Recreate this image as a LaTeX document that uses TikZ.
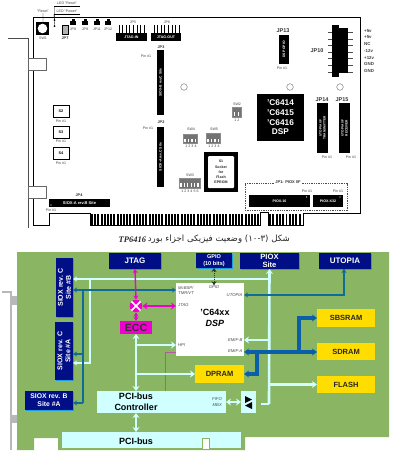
\documentclass[tikz,border=0pt]{standalone}
\usepackage{fontspec}
\setmainfont{Liberation Sans}
\newfontfamily\serf{Liberation Serif}
\newfontfamily\arabicfont[Script=Arabic]{DejaVu Sans}
\TeXXeTstate=1
\usetikzlibrary{arrows.meta,shadows,calc}
\definecolor{pcbgreen}{HTML}{8AB562}
\definecolor{navy}{HTML}{000F85}
\definecolor{edgecyan}{HTML}{1E9FE0}
\definecolor{pale}{HTML}{CFFFFF}
\definecolor{teal1}{HTML}{0F6C96}
\definecolor{blue1}{HTML}{0A5FA8}
\definecolor{magent}{HTML}{F000D0}
\definecolor{plum}{HTML}{B05AA0}
\definecolor{yell}{HTML}{FFDD00}
\definecolor{brk}{HTML}{B8B8B8}
\newcommand\bx[7]{\pgfmathsetmacro\cxx{(#2+#4)/2}\pgfmathsetmacro\cyy{(#3+#5)/2}\pgfmathsetmacro\ww{#4-#2}\pgfmathsetmacro\hh{#5-#3}\node[inner sep=0pt,outer sep=0pt,minimum width=\ww pt,minimum height=\hh pt,align=center,#6] (#1) at (\cxx,\cyy) {#7};}
\tikzset{
 blk/.style={fill=black,text=white,font=\fontsize{3.6}{4}\selectfont\bfseries},
 tiny/.style={inner sep=0pt,font=\fontsize{3.6}{4}\selectfont,text=black!75},
 jp/.style={inner sep=0pt,font=\fontsize{3.8}{4}\selectfont\bfseries,text=black!85},
 jpbig/.style={inner sep=0pt,font=\fontsize{5.5}{6}\selectfont\bfseries,text=black!80},
 sbox/.style={draw=black,line width=.8pt,fill=white,font=\fontsize{3.8}{4}\selectfont\bfseries},
 dip/.style={fill=black!55,draw=black!45,line width=.3pt},
 navybox/.style={fill=navy,text=white,font=\fontsize{8}{9}\selectfont\bfseries,drop shadow={shadow xshift=1pt,shadow yshift=-1pt,fill=edgecyan,opacity=1}},
 vlabel/.style={inner sep=0pt,rotate=90,align=center,text=white,font=\fontsize{7}{8}\selectfont\bfseries},
 yellowbox/.style={fill=yell,text=black!85,font=\fontsize{7.5}{8}\selectfont\bfseries},
 palebox/.style={fill=pale,text=black,font=\fontsize{8}{9.5}\selectfont\bfseries},
 sig/.style={inner sep=0pt,text=black!70,font=\fontsize{4.2}{5}\selectfont\itshape},
 palew/.style={draw=pale,line width=2.6pt},
 palet/.style={draw=pale,line width=1.4pt},
 tealw/.style={draw=teal1,line width=1.4pt},
 bluew/.style={draw=blue1,line width=3.2pt},
 magw/.style={draw=magent,line width=1.4pt},
 tipw/.style={-{Stealth[length=5pt,width=7pt]}},
 tipww/.style={{Stealth[length=5pt,width=7pt]}-{Stealth[length=5pt,width=7pt]}},
 tipn/.style={-{Stealth[length=4pt,width=5pt]}},
 tipnn/.style={{Stealth[length=4pt,width=5pt]}-{Stealth[length=4pt,width=5pt]}},
}
\begin{document}
\begin{tikzpicture}[x=1pt,y=-1pt]
\useasboundingbox (0,0) rectangle (400,453);
% ---------- upper board ----------
\draw[black!70,line width=.8pt] (8,38) -- (28,38) -- (28,228);
\draw[black,line width=1pt] (33,17) -- (360,17) -- (360,213) -- (303,213) -- (303,225) -- (268,225) -- (268,212) -- (260,212) -- (260,225) -- (90,225) -- (90,213) -- (49,213) -- (49,225) -- (33,225) -- cycle;
\bx{tabA}{28}{58}{46}{70}{draw=black!60,fill=white,line width=.4pt}{}
\bx{tabB}{28}{186}{46}{198}{draw=black!60,fill=white,line width=.4pt}{}
\foreach \i in {0,...,52} {\fill[black] ({91+\i*3.2},214) rectangle ++(1.9,10.5);}
\foreach \i in {0,...,9} {\fill[black] ({269+\i*3.3},214) rectangle ++(1.9,10.5);}
% switch and LEDs
\bx{swone}{36}{22}{49}{35}{fill=black}{}
\fill[white] (swone.center) circle (4.8);
\node[tiny] (lsw) at (43,38.5) {SW1};
\node[tiny] (lres) at (43,11) {"Reset"};
\node[tiny] (lledr) at (67,3) {LED "Reset"};
\node[tiny] (lledp) at (67,11) {LED "Power"};
\draw[black,line width=.3pt] (54,6) -- (80,6) (54,14) -- (80,14);
\coordinate (ledA) at (54.5,20);
\coordinate (ledB) at (54.5,26);
\fill[black] (ledA) circle (1) (ledB) circle (1);
\draw[black,line width=.3pt] (43,13) -- (43,22) (54.5,6) -- (ledA) (54,14) -- (ledB);
\bx{jpseven}{62}{25}{68}{34}{draw=black,line width=.7pt,fill=black!30}{}
\node[jp] (ljpseven) at (65,38.5) {JP7};
\foreach \x/\l in {73/JP8,85/JP9,97/JP11,108/JP12} {
 \fill[black] (\x-3,21) rectangle (\x+3,25);
 \fill[black] (\x-1.5,19) rectangle (\x+1.5,21);
 \node[tiny] at (\x,29) {\l};
}
% JTAG headers
\foreach \i in {0,...,7} {\fill[black] ({118.5+\i*3.6},25) rectangle ++(.7,8);\fill[black] ({153.5+\i*3.6},25) rectangle ++(.7,8);}
\bx{jtin}{116}{33}{147}{41}{blk}{JTAG-IN}
\bx{jtout}{151}{33}{181}{41}{blk}{JTAG-OUT}
\node[tiny] (ljpfive) at (133,22) {JP5};
\node[tiny] (ljpsix) at (167,22) {JP6};
% SIOX vertical headers
\bx{jpthree}{157}{50}{164}{115}{fill=black}{}
\node[rotate=90,inner sep=0pt,text=white,font=\fontsize{3.4}{4}\selectfont\bfseries] (tjpthree) at (jpthree.center) {SIOX-B rev.C Site};
\node[jp] (ljpt) at (161,47.5) {JP3};
\node[tiny] (pinthree) at (146,56) {Pin \#1};
\bx{jptwo}{157}{127}{164}{187}{fill=black}{}
\node[rotate=90,inner sep=0pt,text=white,font=\fontsize{3.4}{4}\selectfont\bfseries] (tjptwo) at (jptwo.center) {SIOX-A rev.C Site};
\node[jp] (ljptwo) at (161,122.5) {JP2};
\node[tiny] (pintwo) at (148,128) {Pin \#1};
% mounting holes
\draw[black!60,line width=.4pt,fill=white] (184,87) circle (3.3) (290,87) circle (3.3) (340,87) circle (3.3);
% S2 S3 S4
\bx{stwo}{53}{105}{69}{117}{sbox}{S2}
\bx{sthree}{53}{126}{69}{138}{sbox}{S3}
\bx{sfour}{53}{147}{69}{159}{sbox}{S4}
\node[tiny] (ptwo) at (61,121) {Pin \#1};
\node[tiny] (pthree) at (61,141.5) {Pin \#1};
\node[tiny] (pfour) at (61,163) {Pin \#1};
% JP4
\bx{jpfour}{49}{199}{110}{207}{fill=black,text=white,font=\fontsize{4}{4}\selectfont\bfseries}{SIOX-A rev.B Site}
\node[jp] (ljpfour) at (79,195.5) {JP4};
\node[tiny] (pinfour) at (51,210) {Pin \#1};
% DIP switches
\bx{swfour}{183}{134}{197}{143}{dip}{}
\node[tiny] (lswfour) at (191,129.5) {SW4};
\node[tiny] (nswfour) at (191,146) {1 2 3 4};
\bx{swfive}{206}{133}{220}{143}{dip}{}
\node[tiny] (lswfive) at (214,129.5) {SW5};
\node[tiny] (nswfive) at (214,146) {1 2 3 4};
\bx{swthree}{179}{178}{200}{188}{dip}{}
\node[tiny] (lswthree) at (190,175) {SW3};
\node[tiny] (nswthree) at (190,191) {1 2 3 4 5 6};
\bx{swtwo}{232}{107}{241}{117}{dip}{}
\node[tiny] (lswtwo) at (237,104) {SW2};
\node[tiny] (nswtwo) at (237,120) {1 2};
\foreach \x in {185,188.5,192,195.5,208,211.5,215,218.5} \fill[white] (\x-.6,138.5) rectangle (\x+.6,142);
\foreach \x in {181,184.4,187.8,191.2,194.6,198} \fill[white] (\x-.6,183) rectangle (\x+.6,187);
\foreach \x in {234.5,238.5} \fill[white] (\x-.6,112) rectangle (\x+.6,116);
% socket
\bx{sone}{204}{152}{238}{192}{fill=black}{}
\fill[white,rounded corners=1pt] (208,156) -- (234,156) -- (234,188) -- (208,188) -- cycle;
\node[inner sep=0pt,align=center,font=\fontsize{3.6}{5.2}\selectfont\bfseries,text=black!85] (tsone) at (sone.center) {S1\\Socket\\for\\Flash\\EPROM};
% DSP
\bx{dspchip}{257}{94}{304}{141}{fill=black,text=white,font=\fontsize{8.3}{9.7}\selectfont\bfseries}{'C6414\\'C6415\\'C6416\\DSP}
% JP13
\bx{jpthirteen}{279}{35}{289}{64}{fill=black}{}
\node[rotate=90,inner sep=0pt,text=white,font=\fontsize{3.4}{4}\selectfont\bfseries] (tjpthirteen) at (jpthirteen.center) {DSP GPIO};
\node[jpbig] (ljpthirteen) at (283,31) {JP13};
\node[tiny] (pinthirteen) at (282,68) {Pin \#1};
% JP10
\bx{jpten}{332}{25}{339}{77}{fill=black}{}
\bx{jptenb}{339}{28}{348}{73}{fill=black}{}
\foreach \y in {32,39,45,52,58,65,72} {
 \draw[black!70,line width=.5pt] (328,\y) -- (332,\y) (348,\y) -- (353,\y);
}
\foreach \y/\l in {31/+5v,37.5/+5v,44/NC,50.5/-12v,57.5/+12v,64/GND,70.5/GND} {
 \node[inner sep=0pt,anchor=west,font=\fontsize{4.4}{5}\selectfont\bfseries,text=black!75] at (364,\y) {\l};
}
\node[jpbig] (ljpten) at (317,51) {JP10};
% JP14 JP15
\bx{jpfourteen}{317}{103}{328}{153}{fill=black}{}
\node[rotate=90,inner sep=0pt,align=center,text=white,font=\fontsize{3.2}{3.8}\selectfont\bfseries] (tjpfourteen) at (jpfourteen.center) {UTOPIA I/F\\TRANSMITTER};
\node[jpbig] (ljpfourteen) at (322,99.5) {JP14};
\node[tiny] (pinfourteen) at (327,157) {Pin \#1};
\bx{jpfifteen}{339}{103}{350}{153}{fill=black}{}
\node[rotate=90,inner sep=0pt,align=center,text=white,font=\fontsize{3.2}{3.8}\selectfont\bfseries] (tjpfifteen) at (jpfifteen.center) {UTOPIA I/F\\RECEIVER};
\node[jpbig] (ljpfifteen) at (342,99.5) {JP15};
\node[tiny] (pinfifteen) at (351,157) {Pin \#1};
% PIOX
\bx{piofr}{245}{183}{347}{210}{draw=black!70,dash pattern=on 1.3pt off 1pt,line width=.6pt}{}
\node[inner sep=1pt,fill=white,font=\fontsize{4}{4}\selectfont\bfseries,text=black!80] (ljpone) at (288,182.5) {JP1: PIOX I/F};
\bx{piosixteen}{249}{195}{310}{207}{blk}{PIOX-16}
\bx{pioxxxii}{313}{195}{343}{207}{blk}{PIOX-X32}
\node[tiny] (pinone) at (307,191.5) {Pin \#1};
\node[tiny] (pinonex) at (338,191.5) {Pin \#1};
\fill[white] (306.5,197) circle (.7) (340,197) circle (.7) (51,205) circle (.7);
% caption
\node[inner sep=0pt,anchor=east,font=\fontsize{8.6}{10}\selectfont,text=black!85] (capfa) at (290,239.5) {\arabicfont\beginR شکل (\beginL ۱۰-۳\endL) وضعیت فیزیکی اجزاء بورد\endR};
\node[inner sep=0pt,anchor=east,font=\fontsize{8.5}{9}\selectfont\bfseries\itshape\serf,text=black!85] (capen) at (capfa.west) {TP6416\,};
% ---------- lower board ----------
\draw[brk,line width=1.8pt] (2,292) -- (11,292) -- (11,450);
\bx{brA}{11}{296}{22}{305}{fill=brk}{}
\bx{brB}{11}{415}{22}{423}{fill=brk}{}
\fill[pcbgreen] (17,252) -- (389,252) -- (389,437) -- (245,437) -- (245,450) -- (58,450) -- (58,438) -- (34,438) -- (34,450) -- (17,450) -- cycle;
% boxes
\bx{jtag}{109}{253}{161}{269}{navybox}{JTAG}
\bx{gpiobox}{196}{253}{232}{268}{navybox,font=\fontsize{5.6}{6.4}\selectfont\bfseries}{GPIO\\(10 bits)}
\bx{pioxs}{240}{253}{299}{269}{navybox,font=\fontsize{7.6}{8}\selectfont\bfseries}{PIOX\\Site}
\bx{utopia}{319}{253}{371}{269}{navybox}{UTOPIA}
\bx{sioxb}{56}{258}{73}{317}{navybox}{}
\node[vlabel] (tsioxb) at (sioxb.center) {SIOX rev. C\\Site \#B};
\bx{sioxa}{55}{322}{73}{380}{navybox}{}
\node[vlabel] (tsioxa) at (sioxa.center) {SIOX rev. C\\Site \#A};
\bx{sioxr}{25}{391}{73}{410}{navybox,font=\fontsize{6.8}{8}\selectfont\bfseries}{SIOX rev. B\\Site \#A}
\bx{sbsram}{317}{309}{375}{327}{yellowbox}{SBSRAM}
\bx{sdram}{317}{343}{375}{360}{yellowbox}{SDRAM}
\bx{flash}{317}{376}{375}{393}{yellowbox}{FLASH}
\bx{dpram}{195}{365}{244}{383}{yellowbox}{DPRAM}
\bx{dsp}{176}{283}{244}{356}{fill=white}{}
\node[inner sep=0pt,align=center,font=\fontsize{9}{11}\selectfont\bfseries\itshape] (tdsp) at (215,318) {\upshape'C64xx\\DSP};
\node[sig,align=left,anchor=west] (smc) at (178,290) {McBSP/\\TMR/VT};
\node[sig] (sgp) at (214,287) {GPIO};
\node[sig,anchor=east] (sut) at (242.5,295) {UTOPIA};
\node[sig,anchor=west] (sjt) at (178,305) {JTAG};
\node[sig,anchor=west] (shp) at (178,345) {HPI};
\node[sig,anchor=east] (seb) at (242.5,340.5) {EMIF-B};
\node[sig,anchor=east] (sea) at (242.5,351.5) {EMIF-A};
\bx{ecc}{120}{321}{152}{334}{fill=magent,text=black!80,font=\fontsize{10.5}{11}\selectfont\bfseries}{ECC}
\bx{pcic}{97}{391}{226}{413}{palebox}{}
\node[inner sep=0pt,align=center,font=\fontsize{9}{10.5}\selectfont\bfseries] (tpcic) at (136,402) {PCI-bus\\Controller};
\node[sig,anchor=east,align=right] (sfi) at (222,402) {FIFO\\[1.2pt]MBX};
\bx{swbox}{241}{391}{256}{413}{fill=pale}{}
\fill[black] (245,396) -- (252,399.5) -- (245,403) -- cycle;
\fill[black] (252,402) -- (245,405.5) -- (252,409) -- cycle;
\bx{pcibus}{62}{432}{241}{448}{palebox}{}
\node[inner sep=0pt,font=\fontsize{9}{10}\selectfont\bfseries] (tpci) at (136,441) {PCI-bus};
\draw[pcbgreen,line width=1pt,fill=white] (202,449) -- (202,438) -- (209,438) -- (209,449);
\node[circle,fill=magent,minimum size=12.5pt,inner sep=0pt] (xing) at (136,306) {};
\draw[white,line width=1.5pt] (xing.45) -- (xing.225) (xing.135) -- (xing.315);
% junctions
\coordinate (pv) at (pioxs.south);
\coordinate (pj) at (269,279);
\coordinate (pe) at (269,340);
\coordinate (pf) at (269,384.5);
\coordinate (pb) at (269,404);
\coordinate (pw) at (90,279);
\coordinate (ps) at (90,363);
\coordinate (sbt) at (sioxb.east |- pj);
\coordinate (sat) at (sioxa.east |- ps);
\coordinate (sebp) at (dsp.east |- pe);
\coordinate (fl) at (flash.west |- pf);
\coordinate (tb) at (sioxb.east |- 0,290);
\coordinate (td) at (dsp.west |- 0,290);
\coordinate (tv) at (83,290);
\coordinate (ta) at (sioxa.east |- 0,354);
\coordinate (tva) at (83,354);
\coordinate (tr) at (sioxr.east |- 0,403);
\coordinate (tvr) at (83,403);
\coordinate (uu) at (344,269);
\coordinate (ul) at (344,295);
\coordinate (ud) at (dsp.east |- ul);
\coordinate (ea) at (dsp.east |- 0,352);
\coordinate (esd) at (sdram.west |- ea);
\coordinate (ev) at (299,352);
\coordinate (ess) at (299,318);
\coordinate (ssb) at (sbsram.west |- ess);
\coordinate (edv) at (257,352);
\coordinate (edd) at (257,374);
\coordinate (dp) at (dpram.east |- edd);
\coordinate (pdl) at (dpram.west |- edd);
\coordinate (pdj) at (136,374);
\coordinate (hj) at (136,345);
\coordinate (hp) at (dsp.west |- hj);
\coordinate (mhs) at (dsp.west |- 0,352);
\coordinate (mhc) at (165,352);
\coordinate (mhb) at (165,391);
\coordinate (jtr) at (dsp.west |- xing);
% pale PIOX bus
\draw[palew,tipw] (pb) -- (pv);
\draw[palew] (pb) -- ++(-8,0);
\draw[palet,tipn] (pj) -- (sbt);
\draw[palet,tipn] (pw) -- (ps) -- (sat);
\draw[palew,tipw] (pe) -- (sebp);
\draw[palew,tipw] (pf) -- (fl);
\draw[palew,tipww] (swbox.west |- 0,402) -- (pcic.east |- 0,402);
% teal buses
\draw[tealw,tipnn] (tb) -- (td);
\draw[tealw] (tv) -- (tvr);
\draw[tealw,tipn] (tva) -- (ta);
\draw[tealw,tipn] (tvr) -- (tr);
\draw[tealw,tipn] (uu) -- (ul) -- (ud);
\draw[tealw,tipn] (ul) -- (uu);
% blue EMIF
\draw[bluew,tipww] (ea) -- (esd);
\draw[bluew,tipw] (ev) -- (ess) -- (ssb);
\draw[bluew,tipw] (edv) -- (edd) -- (dp);
% magenta
\draw[magw,tipnn] (jtag.south) -- (xing.north);
\draw[magw,tipnn] (xing.south) -- (ecc.north);
\draw[draw=magent,line width=2pt,tipww] (xing.east) -- (jtr);
\draw[plum,line width=1pt] (mhs) -- (mhc) -- (mhb);
% pale HPI
\draw[palew,tipww] (ecc.south) -- (pcic.north -| ecc.south);
\draw[palew,tipw] (hj) -- (hp);
\draw[palew,tipw] (pdj) -- (pdl);
\draw[palew,tipww] ($(pcibus.north)+(-15.5,0)$) -- (pcic.south -| ecc.south);
% GPIO
\draw[black!80,line width=1pt,dash pattern=on 1.5pt off .6pt,tipnn] (gpiobox.south) -- (sgp.north);
\end{tikzpicture}
\end{document}
